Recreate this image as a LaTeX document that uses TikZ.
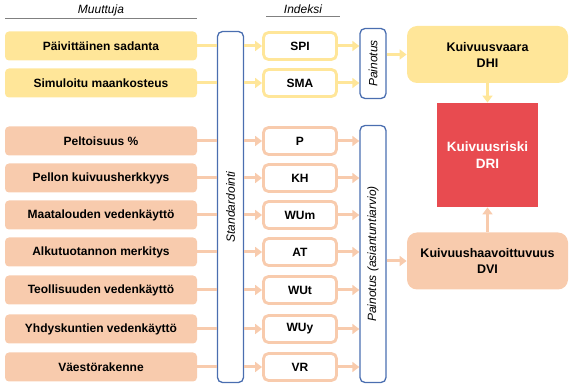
\documentclass[tikz,border=0pt]{standalone}
\usepackage{fontspec}
\setmainfont{Liberation Sans}
\usetikzlibrary{arrows.meta}

\definecolor{keltainen}{HTML}{FFE699}
\definecolor{oranssi}{HTML}{F8CBAD}
\definecolor{sininen}{HTML}{4A6EB0}
\definecolor{punainen}{HTML}{E84B50}
\definecolor{harmaa}{HTML}{808080}

\begin{document}
\begin{tikzpicture}[x=1pt, y=-1pt, thick,
        muuttuja/.style={rectangle, rounded corners=4pt, minimum width=192pt, minimum height=29pt, font=\fontsize{12}{14}\selectfont\bfseries},
        indeksi/.style={rectangle, rounded corners=5pt, draw, fill=white, line width=2.8pt, minimum width=73pt, minimum height=27pt, font=\fontsize{12}{14}\selectfont\bfseries},
        vaihe/.style={rectangle, rounded corners=5pt, draw=sininen, line width=1.3pt, minimum width=26pt},
        tulos/.style={rectangle, rounded corners=10pt, minimum width=161pt, minimum height=57pt, align=center, font=\fontsize{12.5}{16}\selectfont\bfseries},
        otsikko/.style={font=\fontsize{12}{14}\selectfont\itshape},
        viiva/.style={line width=3pt},
        nuoli/.style={line width=3pt, -{Triangle[length=7pt,width=10pt]}}]
    \useasboundingbox (0,0) rectangle (574,390);

    % Headers
    \node[otsikko] (hm) at (101,10) {Muuttuja};
    \node[otsikko] (hi) at (303,9) {Indeksi};
    \draw[harmaa, line width=1pt] (5,19) -- (197,19);
    \draw[harmaa, line width=1pt] (266,17) -- (340,17);

    % Nodes
    \node[vaihe, minimum height=351pt, label={[rotate=90, otsikko]center:Standardointi}] (std) at (230.5,207) {};
    \node[vaihe, minimum height=70pt, label={[rotate=90, otsikko]center:Painotus}] (p1) at (373,63.5) {};
    \node[vaihe, minimum height=257pt, label={[rotate=90, otsikko]center:Painotus (asiantuntiarvio)}] (p2) at (373,254) {};

    \node[tulos, fill=keltainen] (dhi) at (487.5,54.5) {Kuivuusvaara\\DHI};
    \node[rectangle, fill=punainen, minimum width=101pt, minimum height=104pt, align=center, text=white, font=\fontsize{13.5}{17}\selectfont\bfseries] (dri) at (487.5,155) {Kuivuusriski\\DRI};
    \node[tulos, fill=oranssi] (dvi) at (487.5,261) {Kuivuushaavoittuvuus\\DVI};

    % Variables, indices and edges
    \foreach \y/\vari/\p/\teksti/\lyh [count=\i] in {
            46/keltainen/p1/Päivittäinen sadanta/SPI,
            83/keltainen/p1/Simuloitu maankosteus/SMA,
            141/oranssi/p2/Peltoisuus \%/P,
            178/oranssi/p2/Pellon kuivuusherkkyys/KH,
            215/oranssi/p2/Maatalouden vedenkäyttö/WUm,
            252/oranssi/p2/Alkutuotannon merkitys/AT,
            290/oranssi/p2/Teollisuuden vedenkäyttö/WUt,
            329/oranssi/p2/Yhdyskuntien vedenkäyttö/WUy,
            367/oranssi/p2/Väestörakenne/VR} {
        \node[muuttuja, fill=\vari] (m\i) at (101,\y) {\teksti};
        \node[indeksi, draw=\vari] (x\i) at (300,\y) {\lyh};
        \draw[viiva, \vari] (m\i.east) -- (m\i.east -| std.west);
        \draw[nuoli, \vari] (m\i.east -| std.east) -- (x\i.west);
        \draw[nuoli, \vari] (x\i.east) -- (x\i.east -| \p.west);
    }

    \draw[nuoli, keltainen] (dhi.west -| p1.east) -- (dhi.west);
    \draw[nuoli, oranssi] (dvi.west -| p2.east) -- (dvi.west);
    \draw[nuoli, keltainen] (dhi.south) -- (dri.north);
    \draw[nuoli, oranssi] (dvi.north) -- (dri.south);
\end{tikzpicture}
\end{document}
